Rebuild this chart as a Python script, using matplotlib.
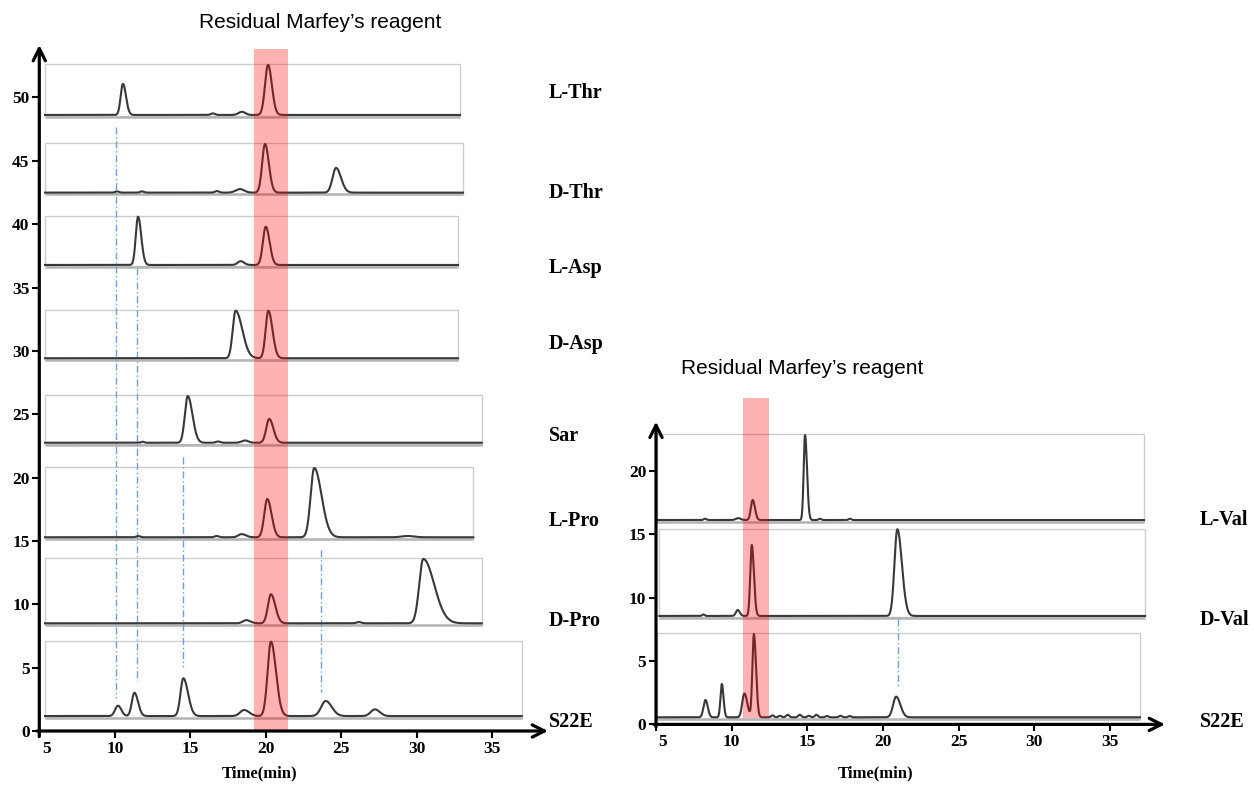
import numpy as np
import matplotlib
matplotlib.use("Agg")
import matplotlib.pyplot as plt
from matplotlib.patches import Rectangle
from matplotlib.transforms import ScaledTranslation

# ---------------- data ----------------
# Left panel: Thr / Asp / Sar / Pro standards and the S22E hydrolysate
left_samples = ["L-Thr", "D-Thr", "L-Asp", "D-Asp", "Sar", "L-Pro", "D-Pro", "S22E"]
left_baselines = [48.62, 42.49, 36.78, 29.42, 22.75, 15.29, 8.50, 1.18]
left_run_end = [32.86, 33.06, 32.73, 32.73, 34.30, 33.74, 34.30, 36.95]

# peaks: (retention time / min, height above baseline, front sigma, tail sigma)
l_thr_peaks = [(10.54, 2.45, 0.15, 0.20), (16.50, 0.12, 0.14, 0.14),
               (18.42, 0.25, 0.22, 0.22), (20.15, 3.95, 0.20, 0.25)]
d_thr_peaks = [(10.15, 0.10, 0.12, 0.12), (11.80, 0.10, 0.12, 0.12),
               (16.77, 0.12, 0.14, 0.14), (18.29, 0.28, 0.28, 0.28),
               (19.95, 3.84, 0.19, 0.25), (24.65, 1.95, 0.23, 0.33)]
l_asp_peaks = [(11.54, 3.81, 0.15, 0.21), (18.34, 0.30, 0.20, 0.22),
               (20.00, 3.02, 0.19, 0.25)]
d_asp_peaks = [(18.00, 3.75, 0.19, 0.44), (20.17, 3.75, 0.18, 0.27)]
sar_peaks = [(11.85, 0.08, 0.10, 0.10), (14.83, 3.69, 0.19, 0.31),
             (16.83, 0.10, 0.14, 0.14), (18.62, 0.18, 0.22, 0.22),
             (20.23, 1.88, 0.20, 0.27)]
l_pro_peaks = [(11.54, 0.10, 0.12, 0.12), (16.75, 0.10, 0.14, 0.14),
               (18.40, 0.25, 0.22, 0.28), (20.10, 3.02, 0.20, 0.28),
               (23.21, 5.47, 0.24, 0.48), (29.40, 0.10, 0.40, 0.40)]
d_pro_peaks = [(18.70, 0.25, 0.22, 0.28), (20.34, 2.29, 0.20, 0.29),
               (26.17, 0.10, 0.15, 0.15), (30.43, 5.08, 0.27, 0.72)]
s22e_left_peaks = [(10.21, 0.82, 0.19, 0.22), (11.30, 1.84, 0.17, 0.24),
                   (14.54, 2.98, 0.19, 0.31), (18.57, 0.48, 0.27, 0.33),
                   (20.34, 5.87, 0.22, 0.33), (23.97, 1.19, 0.30, 0.40),
                   (27.22, 0.53, 0.27, 0.32)]
left_peaks = [l_thr_peaks, d_thr_peaks, l_asp_peaks, d_asp_peaks,
              sar_peaks, l_pro_peaks, d_pro_peaks, s22e_left_peaks]

# retention times matched between standards and S22E: (time, top, bottom)
left_guides_rt = [10.08, 11.44, 14.50, 23.66]
left_guides_top = [47.70, 36.54, 21.65, 14.29]
left_guides_bottom = [2.58, 3.95, 5.03, 3.10]
left_reagent_window = (19.24, 21.45)

# Right panel: Val standards and S22E
right_samples = ["L-Val", "D-Val", "S22E"]
right_baselines = [16.13, 8.56, 0.56]
right_run_start = [5.07, 5.22, 5.07]
right_run_end = [37.25, 37.32, 36.99]

l_val_peaks = [(8.24, 0.10, 0.09, 0.09), (10.44, 0.15, 0.16, 0.16),
               (11.39, 1.58, 0.12, 0.15), (14.85, 6.71, 0.09, 0.13),
               (15.84, 0.10, 0.09, 0.09), (17.82, 0.10, 0.09, 0.09)]
d_val_peaks = [(8.13, 0.12, 0.08, 0.08), (10.40, 0.47, 0.12, 0.14),
               (11.33, 5.60, 0.10, 0.14), (20.95, 6.84, 0.19, 0.30)]
s22e_right_peaks = [(8.27, 1.37, 0.13, 0.15), (9.35, 2.63, 0.09, 0.11),
                    (10.84, 1.89, 0.14, 0.19), (11.47, 6.57, 0.10, 0.14),
                    (12.70, 0.15, 0.10, 0.10), (13.20, 0.12, 0.10, 0.10),
                    (13.70, 0.20, 0.10, 0.10), (14.50, 0.20, 0.10, 0.10),
                    (15.10, 0.12, 0.10, 0.10), (15.60, 0.20, 0.10, 0.10),
                    (16.30, 0.10, 0.10, 0.10), (17.20, 0.12, 0.10, 0.10),
                    (17.80, 0.10, 0.10, 0.10), (20.87, 1.63, 0.20, 0.28)]
right_peaks = [l_val_peaks, d_val_peaks, s22e_right_peaks]

right_guides_rt = [21.00]
right_guides_top = [8.33]
right_guides_bottom = [2.95]
right_reagent_window = (10.77, 12.49)

x_ticks = [5, 10, 15, 20, 25, 30, 35]
left_y_ticks = [0, 5, 10, 15, 20, 25, 30, 35, 40, 45, 50]
right_y_ticks = [0, 5, 10, 15, 20]
title_text = "Residual Marfey\u2019s reagent"
x_label = "Time(min)"

# ---------------- drawing ----------------
W, H = 1254, 788
fig = plt.figure(figsize=(W / 100, H / 100), dpi=100)
fig.patch.set_facecolor("white")

SERIF = ["Liberation Serif", "DejaVu Serif"]
SANS = ["Liberation Sans", "DejaVu Sans"]
TRACE_COLOR = "#383838"
BOX_COLOR = "#cdcdcd"
GUIDE_COLOR = "#6aa3d8"


def px_axes(left, right, bottom, top):
    return fig.add_axes([left / W, 1 - bottom / H, (right - left) / W, (bottom - top) / H])


def fig_text(x, y, s, **kw):
    fig.text(x / W, 1 - y / H, s, **kw)


def draw_trace(ax, t0, t1, base, peaks):
    t = np.linspace(t0, t1, 5000)
    y = np.full_like(t, base)
    for rt, h, s_front, s_tail in peaks:
        s = np.where(t < rt, s_front, s_tail)
        y += h * np.exp(-0.5 * ((t - rt) / s) ** 2)
    top = y.max() + 0.05
    ax.add_patch(Rectangle((t0, base - 0.12), t1 - t0, top - base + 0.12,
                           fill=False, edgecolor=BOX_COLOR, lw=1.0,
                           clip_on=False, zorder=1))
    ax.plot([t0, t1], [base - 0.14, base - 0.14], color="#b4b4b4", lw=1.8,
            solid_capstyle="butt", clip_on=False, zorder=1)
    ax.plot(t, y, color=TRACE_COLOR, lw=1.5, clip_on=False, zorder=3)


def style_axes(ax, xmax, ymax, yticks):
    ax.set_xlim(5, xmax)
    ax.set_ylim(0, ymax)
    ax.patch.set_alpha(0)
    for side in ("top", "right", "left", "bottom"):
        ax.spines[side].set_visible(False)
    ax.set_xticks(x_ticks)
    ax.set_yticks(yticks)
    ax.tick_params(direction="out", length=5, width=1.5, pad=2, labelsize=12.5)
    for lab in ax.get_xticklabels() + ax.get_yticklabels():
        lab.set_fontfamily(SERIF)
        lab.set_fontweight("bold")
    # the first time label sits just right of the vertical axis
    first = ax.get_xticklabels()[0]
    first.set_transform(first.get_transform() + ScaledTranslation(0.07, 0, fig.dpi_scale_trans))
    arrow = dict(arrowstyle="->", lw=2.3, color="black", mutation_scale=22,
                 shrinkA=0, shrinkB=0)
    ax.annotate("", xy=(0, 1), xytext=(0, -0.008), xycoords="axes fraction",
                arrowprops=arrow, zorder=6)
    ax.annotate("", xy=(1, 0), xytext=(-0.004, 0), xycoords="axes fraction",
                arrowprops=arrow, zorder=6)


# left panel
axL = px_axes(39.3, 548, 731, 45)
style_axes(axL, 38.69, 54.14, left_y_ticks)
for base, end, peaks in zip(left_baselines, left_run_end, left_peaks):
    draw_trace(axL, 5.38, end, base, peaks)
for rt, y0, y1 in zip(left_guides_rt, left_guides_top, left_guides_bottom):
    axL.plot([rt, rt], [y0, y1], color=GUIDE_COLOR, lw=1.0,
             ls=(0, (5, 2, 1, 2)), zorder=2)
a, b = left_reagent_window
axL.add_patch(Rectangle((a, 0), b - a, 53.83, facecolor="red", alpha=0.3,
                        edgecolor="none", clip_on=False, zorder=5))

# right panel
axR = px_axes(656, 1165, 724.4, 421.7)
style_axes(axR, 38.64, 23.89, right_y_ticks)
for base, t0, end, peaks in zip(right_baselines, right_run_start, right_run_end, right_peaks):
    draw_trace(axR, t0, end, base, peaks)
for rt, y0, y1 in zip(right_guides_rt, right_guides_top, right_guides_bottom):
    axR.plot([rt, rt], [y0, y1], color=GUIDE_COLOR, lw=1.0,
             ls=(0, (5, 2, 1, 2)), zorder=2)
a, b = right_reagent_window
axR.add_patch(Rectangle((a, 0.48), b - a, 25.28, facecolor="red", alpha=0.3,
                        edgecolor="none", clip_on=False, zorder=5))

# titles, axis labels and sample names
fig_text(320.5, 22, title_text, ha="center", va="center", fontsize=15, family=SANS)
fig_text(802, 368, title_text, ha="center", va="center", fontsize=15, family=SANS)
fig_text(260, 773, x_label, ha="center", va="center", fontsize=12,
         family=SERIF, fontweight="bold")
fig_text(876, 773, x_label, ha="center", va="center", fontsize=12,
         family=SERIF, fontweight="bold")

left_name_y = [97.7, 198, 273.3, 349.3, 441, 525.5, 626, 727]
for name, y in zip(left_samples, left_name_y):
    fig_text(549, y, name, ha="left", va="baseline", fontsize=14.5,
             family=SERIF, fontweight="bold")
right_name_y = [525, 625, 726.7]
for name, y in zip(right_samples, right_name_y):
    fig_text(1200, y, name, ha="left", va="baseline", fontsize=14.5,
             family=SERIF, fontweight="bold")

fig.savefig("out.png", dpi=100, facecolor="white")
